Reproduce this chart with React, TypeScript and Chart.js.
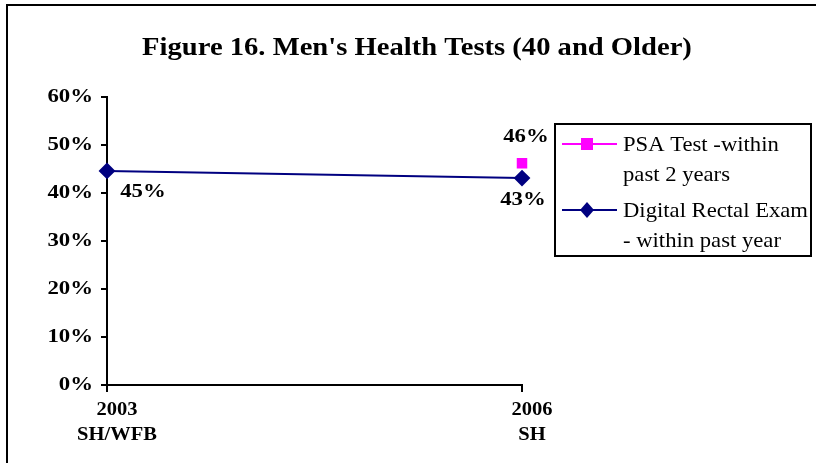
import React, { useEffect, useRef } from "react";
import { Chart, registerables } from "chart.js";

Chart.register(...registerables);

const titleText = "Figure 16. Men's Health Tests (40 and Older)";
const categories = [["2003", "SH/WFB"], ["2006", "SH"]];
const psaLabel = ["PSA Test -within", "past 2 years"];
const dreLabel = ["Digital Rectal Exam", "- within past year"];
const psaValues: (number | null)[] = [null, 46.2];
const dreValues: (number | null)[] = [44.6, 43.1];
const yMin = 0;
const yMax = 60;
const yStep = 10;

const SERIF = "'Liberation Serif', 'Times New Roman', serif";

function stretchText(ctx: any, text: string, x: number, y: number, sx: number) {
  ctx.save();
  ctx.translate(x, y);
  ctx.scale(sx, 1);
  ctx.fillText(text, 0, 0);
  ctx.restore();
}

const decorPlugin = {
  id: "decor",
  beforeDraw(chart: any) {
    const ctx = chart.ctx;
    if (!ctx.__patched) {
      const orig = ctx.fillText;
      ctx.fillText = function (text: string, x: number, y: number, maxWidth?: number) {
        const s = this.__axisStretch
          ? this.textAlign === "right"
            ? 1.2
            : this.textAlign === "center"
            ? 1.08
            : 1
          : 1;
        if (s === 1) {
          if (maxWidth === undefined) return orig.call(this, text, x, y);
          return orig.call(this, text, x, y, maxWidth);
        }
        this.save();
        this.translate(x, y);
        this.scale(s, 1);
        orig.call(this, text, 0, 0);
        this.restore();
      };
      ctx.__patched = true;
    }
    ctx.__axisStretch = false;
    ctx.save();
    ctx.fillStyle = "#fff";
    ctx.fillRect(0, 0, chart.width, chart.height);
    ctx.strokeStyle = "#000";
    ctx.lineWidth = 2;
    ctx.beginPath();
    ctx.moveTo(6, 5);
    ctx.lineTo(chart.width, 5);
    ctx.moveTo(7, 4);
    ctx.lineTo(7, chart.height);
    ctx.stroke();
    // title
    ctx.fillStyle = "#000";
    ctx.font = `bold 26px ${SERIF}`;
    ctx.textAlign = "center";
    ctx.textBaseline = "middle";
    stretchText(ctx, titleText, 417, 48, 1.1);
    ctx.restore();
    ctx.__axisStretch = true;
  },
  beforeDatasetsDraw(chart: any) {
    chart.ctx.__axisStretch = false;
  },
  afterDraw(chart: any) {
    const ctx = chart.ctx;
    ctx.__axisStretch = false;
    ctx.save();
    // data labels
    ctx.fillStyle = "#000";
    ctx.font = `bold 19px ${SERIF}`;
    ctx.textBaseline = "middle";
    ctx.textAlign = "center";
    const offsets: Record<string, [number, number][]> = {
      "0": [[36, 21], [1, 22]],
      "1": [[0, 0], [4, -26]],
    };
    chart.data.datasets.forEach((ds: any, di: number) => {
      const meta = chart.getDatasetMeta(di);
      meta.data.forEach((pt: any, i: number) => {
        const v = ds.data[i];
        if (v == null) return;
        const off = offsets[String(di)][i];
        stretchText(ctx, Math.round(v) + "%", pt.x + off[0], pt.y + off[1], 1.2);
      });
    });
    // legend
    const bx = 555, by = 124, bw = 256, bh = 132;
    ctx.strokeStyle = "#000";
    ctx.lineWidth = 2;
    ctx.strokeRect(bx, by, bw, bh);
    const items = [
      { ds: chart.data.datasets[1], y: 144, text: psaLabel },
      { ds: chart.data.datasets[0], y: 210, text: dreLabel },
    ];
    items.forEach((it) => {
      ctx.strokeStyle = it.ds.borderColor;
      ctx.lineWidth = 2;
      ctx.beginPath();
      ctx.moveTo(562, it.y);
      ctx.lineTo(617, it.y);
      ctx.stroke();
      ctx.fillStyle = it.ds.pointBackgroundColor;
      ctx.beginPath();
      if (it.ds.pointStyle === "rect") {
        ctx.rect(587 - 6, it.y - 6, 12, 12);
      } else {
        ctx.moveTo(587, it.y - 8);
        ctx.lineTo(594, it.y);
        ctx.lineTo(587, it.y + 8);
        ctx.lineTo(580, it.y);
        ctx.closePath();
      }
      ctx.fill();
      ctx.fillStyle = "#000";
      ctx.font = `22px ${SERIF}`;
      ctx.textAlign = "left";
      ctx.textBaseline = "middle";
      it.text.forEach((t: string, k: number) => {
        stretchText(ctx, t, 623, it.y + 1 + k * 30, 1.03);
      });
    });
    ctx.restore();
  },
};

export default function App() {
  const ref = useRef<HTMLCanvasElement>(null);
  useEffect(() => {
    if (!ref.current) return;
    const chart = new Chart(ref.current, {
      type: "line",
      data: {
        labels: categories as any,
        datasets: [
          {
            label: dreLabel.join(" "),
            data: dreValues,
            borderColor: "#000080",
            backgroundColor: "#000080",
            pointBackgroundColor: "#000080",
            pointBorderColor: "#000080",
            pointStyle: "rectRot",
            pointRadius: 7,
            borderWidth: 2,
            tension: 0,
          },
          {
            label: psaLabel.join(" "),
            data: psaValues,
            borderColor: "#FF00FF",
            backgroundColor: "#FF00FF",
            pointBackgroundColor: "#FF00FF",
            pointBorderColor: "#FF00FF",
            pointStyle: "rect",
            pointRadius: 6,
            borderWidth: 2,
            tension: 0,
          },
        ],
      },
      options: {
        responsive: false,
        animation: false,
        layout: { padding: { left: 0, top: 97, right: 294, bottom: 0 } },
        plugins: {
          legend: { display: false },
          title: { display: false },
          tooltip: { enabled: false },
        },
        scales: {
          x: {
            offset: false,
            grid: { drawOnChartArea: false, drawTicks: true, tickLength: 7, color: "#000", lineWidth: 2 },
            border: { color: "#000", width: 2 },
            ticks: {
              color: "#000",
              font: { family: SERIF, size: 19, weight: "bold", lineHeight: 1.3 },
              maxRotation: 0,
              autoSkip: false,
              padding: 6,
              labelOffset: 10,
            },
            afterFit(scale: any) {
              scale.height = 78;
            },
          },
          y: {
            min: yMin,
            max: yMax,
            grid: { drawOnChartArea: false, drawTicks: true, tickLength: 6, color: "#000", lineWidth: 2 },
            border: { color: "#000", width: 2 },
            ticks: {
              stepSize: yStep,
              color: "#000",
              font: { family: SERIF, size: 19, weight: "bold" },
              padding: 8,
              callback: (v: any) => v + "%",
            },
            afterFit(scale: any) {
              scale.width = 107;
            },
          },
        },
      },
      plugins: [decorPlugin],
    });
    return () => chart.destroy();
  }, []);
  return (
    <div style={{ position: "fixed", left: 0, top: 0, width: 816, height: 463 }}>
      <canvas ref={ref} width={816} height={463} style={{ display: "block" }} />
    </div>
  );
}
